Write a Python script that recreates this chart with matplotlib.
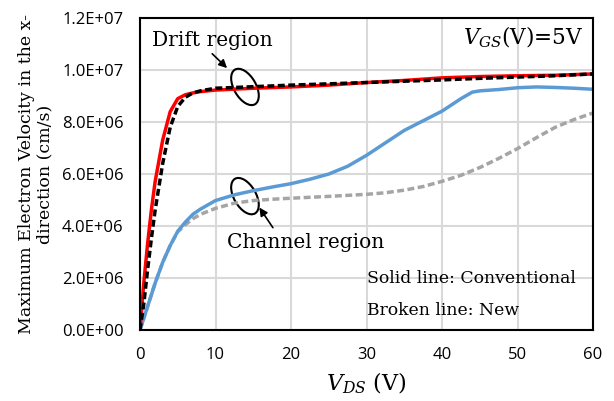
import matplotlib
matplotlib.use("Agg")
import matplotlib.pyplot as plt
from matplotlib.patches import Ellipse
from matplotlib.transforms import IdentityTransform

plt.rcParams["mathtext.fontset"] = "dejavuserif"

# drift region, conventional (solid red) and new (dashed black)
v_drift = [0, 0.5, 1, 1.5, 2, 3, 4, 5, 6, 7, 8, 10, 15, 20, 25, 30, 35, 40, 45, 50, 55, 60]
drift_conv = [0, 1.8e6, 3.3e6, 4.6e6, 5.7e6, 7.3e6, 8.4e6, 8.9e6, 9.05e6, 9.12e6, 9.17e6,
              9.23e6, 9.3e6, 9.35e6, 9.42e6, 9.52e6, 9.6e6, 9.7e6, 9.75e6, 9.78e6, 9.8e6, 9.85e6]
drift_new = [0, 1.0e6, 2.3e6, 3.5e6, 4.6e6, 6.4e6, 7.8e6, 8.6e6, 8.95e6, 9.12e6, 9.2e6,
             9.3e6, 9.36e6, 9.42e6, 9.47e6, 9.52e6, 9.57e6, 9.62e6, 9.68e6, 9.73e6, 9.78e6, 9.85e6]

# channel region
v_ch_conv = [0, 1, 2, 3, 4, 5, 6, 7, 8, 10, 12.5, 15, 17.5, 20, 22.5, 25, 27.5, 30, 32.5, 35,
             37.5, 40, 42.5, 44, 45, 47.5, 50, 52.5, 55, 57.5, 60]
ch_conv = [0, 0.9e6, 1.8e6, 2.6e6, 3.25e6, 3.8e6, 4.15e6, 4.45e6, 4.65e6, 4.98e6, 5.2e6, 5.36e6,
           5.5e6, 5.63e6, 5.8e6, 6.0e6, 6.3e6, 6.72e6, 7.2e6, 7.68e6, 8.05e6, 8.42e6, 8.9e6,
           9.15e6, 9.2e6, 9.25e6, 9.32e6, 9.35e6, 9.33e6, 9.3e6, 9.26e6]
v_ch_new = [0, 1, 2, 3, 4, 5, 6, 7, 8, 10, 12.5, 15, 17.5, 20, 25, 30, 32.5, 35, 37.5, 40,
            42.5, 45, 47.5, 50, 52.5, 55, 57.5, 60]
ch_new = [0, 0.9e6, 1.8e6, 2.6e6, 3.25e6, 3.78e6, 4.05e6, 4.28e6, 4.45e6, 4.68e6, 4.88e6, 4.98e6,
          5.03e6, 5.07e6, 5.14e6, 5.22e6, 5.28e6, 5.38e6, 5.52e6, 5.72e6, 5.95e6, 6.25e6, 6.6e6,
          6.98e6, 7.4e6, 7.8e6, 8.1e6, 8.35e6]

x_ticks = [0, 10, 20, 30, 40, 50, 60]
y_ticks = [0, 2e6, 4e6, 6e6, 8e6, 1e7, 1.2e7]
y_labels = ["0.0E+00", "2.0E+06", "4.0E+06", "6.0E+06", "8.0E+06", "1.0E+07", "1.2E+07"]

fig = plt.figure(figsize=(6.14, 4.01), dpi=100)
ax = fig.add_axes([0.228, 0.177, 0.738, 0.778])

ax.plot(v_ch_new, ch_new, color="#a5a5a5", lw=2.5, dashes=(2, 1))
ax.plot(v_ch_conv, ch_conv, color="#5b9bd5", lw=2.5)
ax.plot(v_drift, drift_conv, color="red", lw=2.5)
ax.plot(v_drift, drift_new, color="black", lw=2.5, dashes=(2, 1))

ax.set_xlim(0, 60)
ax.set_ylim(0, 1.2e7)
ax.set_xticks(x_ticks)
ax.set_yticks(y_ticks)
ax.set_yticklabels(y_labels)
ax.tick_params(length=0, labelsize=12)
ax.tick_params(axis="y", pad=12)
ax.tick_params(axis="x", pad=12)
for lab in ax.get_xticklabels() + ax.get_yticklabels():
    lab.set_family("Open Sans")
ax.grid(color="#d9d9d9", lw=1.5)
ax.set_axisbelow(True)
for s in ax.spines.values():
    s.set_linewidth(1.5)

ax.set_xlabel(r"$V_{DS}$ (V)", family="DejaVu Serif", fontsize=16, labelpad=6)
ax.set_ylabel("Maximum Electron Velocity in the x-\ndirection (cm/s)",
              family="DejaVu Serif", fontsize=12.5, labelpad=6, linespacing=1.1)

serif = dict(family="DejaVu Serif")
ax.text(9.6, 1.115e7, "Drift region", ha="center", va="center", fontsize=14.5, **serif)
ax.text(21.9, 3.38e6, "Channel region", ha="center", va="center", fontsize=14.5, **serif)
ax.text(58.7, 1.127e7, r"$V_{GS}$(V)=5V", ha="right", va="center", fontsize=15.5, **serif)
ax.text(30, 2.0e6, "Solid line: Conventional", ha="left", va="center", fontsize=12.4, **serif)
ax.text(30, 0.77e6, "Broken line: New", ha="left", va="center", fontsize=12.4, **serif)

ax.annotate("", xy=(11.8, 1.0e7), xytext=(9.3, 1.07e7),
            arrowprops=dict(arrowstyle="-|>", color="black", lw=1.2, mutation_scale=12))
ax.annotate("", xy=(15.6, 4.8e6), xytext=(17.8, 3.85e6),
            arrowprops=dict(arrowstyle="-|>", color="black", lw=1.2, mutation_scale=12))

fig.canvas.draw()
for cx, cy in [(13.9, 9.35e6), (13.9, 5.15e6)]:
    px, py = ax.transData.transform((cx, cy))
    ax.add_patch(Ellipse((px, py), 40, 22, angle=-60, fill=False, lw=1.5,
                         ec="black", transform=IdentityTransform()))

fig.savefig("out.png", dpi=100)
